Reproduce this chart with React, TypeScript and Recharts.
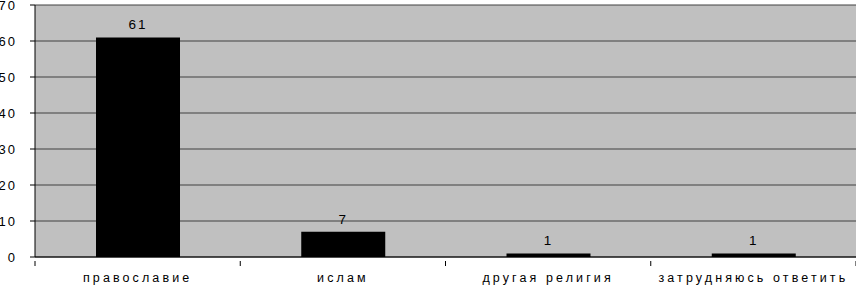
import React from 'react';
import { BarChart, Bar, XAxis, YAxis, CartesianGrid, LabelList } from 'recharts';

const categories = ['православие', 'ислам', 'другая религия', 'затрудняюсь ответить'];
const values = [61, 7, 1, 1];
const yTicks = [0, 10, 20, 30, 40, 50, 60, 70];

const data = categories.map((name, i) => ({ name, value: values[i] }));

const XTick = (props: any) => {
  const { x, y, payload } = props;
  const off = payload && payload.offset ? payload.offset : 102.6;
  return (
    <g>
      <line x1={x + off} y1={y - 4} x2={x + off} y2={y + 1} stroke="#000" strokeWidth={1} />
      {payload.index === 0 && (
        <line x1={x - off} y1={y - 4} x2={x - off} y2={y + 1} stroke="#000" strokeWidth={1} />
      )}
      <text x={x} y={y + 17} textAnchor="middle" fontSize={12.5} letterSpacing={3.1} fill="#000"
        fontFamily="Liberation Sans, Arial, sans-serif">
        {payload.value}
      </text>
    </g>
  );
};

const YTick = (props: any) => {
  const { y, payload } = props;
  return (
    <text x={17} y={y + 5} textAnchor="end" fontSize={13} letterSpacing={2} fill="#000"
      fontFamily="Liberation Sans, Arial, sans-serif">
      {payload.value}
    </text>
  );
};

export default function App() {
  return (
    <div style={{ position: 'absolute', left: 0, top: 0, width: 856, height: 286, background: '#fff' }}>
      <BarChart width={856} height={286} data={data} margin={{ top: 5, right: 0, left: 0, bottom: 0 }} barCategoryGap={0}>
        <CartesianGrid vertical={false} fill="#C0C0C0" stroke="#404040" strokeWidth={1} />
        <XAxis dataKey="name" height={29} axisLine={{ stroke: '#000' }} tickLine={false} tick={<XTick />} interval={0} />
        <YAxis domain={[0, 70]} ticks={yTicks} width={35} axisLine={{ stroke: '#000' }}
          tickLine={{ stroke: '#000' }} tickSize={5} tick={<YTick />} interval={0} />
        <Bar dataKey="value" fill="#000" barSize={84} isAnimationActive={false}>
          <LabelList dataKey="value" position="top" offset={8} fontSize={13.5} fill="#000" letterSpacing={2}
            fontFamily="Liberation Sans, Arial, sans-serif" />
        </Bar>
      </BarChart>
    </div>
  );
}
